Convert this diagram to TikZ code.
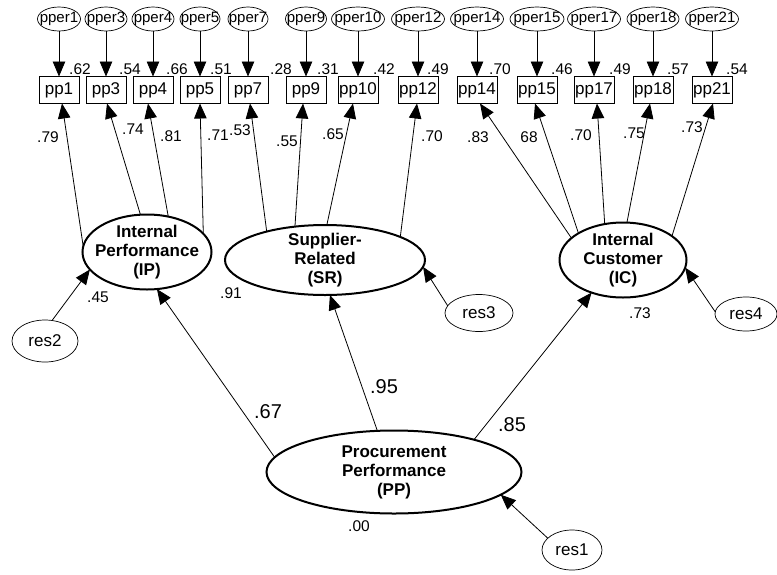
\documentclass[tikz,border=0pt]{standalone}
\usepackage{fontspec}
\setmainfont{Liberation Sans}
\usetikzlibrary{arrows.meta,shapes.geometric}
\begin{document}
\begin{tikzpicture}[x=1pt,y=-1pt,
 every node/.style={inner sep=0pt, outer sep=0pt},
 obs/.style={draw, line width=0.8pt, minimum width=40pt, minimum height=27pt, font=\fontsize{17}{17}\selectfont},
 err/.style={draw, ellipse, inner sep=-15pt, line width=0.7pt, minimum height=24pt, font=\fontsize{15}{15}\selectfont},
 lat/.style={draw, ellipse, inner sep=-15pt, line width=2pt, align=center, font=\bfseries\fontsize{17}{19}\selectfont},
 res/.style={draw, ellipse, inner sep=-15pt, line width=0.7pt, font=\fontsize{17}{17}\selectfont},
 lbl/.style={font=\fontsize{15.5}{15.5}\selectfont},
 big/.style={font=\fontsize{20}{20}\selectfont},
 arr/.style={line width=0.8pt, -{Triangle[length=15pt,width=12.5pt]}},
]
\useasboundingbox (0,0) rectangle (777,574);

% observed indicators and their error terms
\foreach \n/\x/\w/\s/\sx in {1/59/43/.62/80, 3/106/42/.54/130, 4/153/42/.66/177, 5/200/40/.51/221,
  7/248/40/.28/281, 9/306/41/.31/328, 10/358/53/.42/384, 12/418/53/.49/438,
  14/477/53/.70/500, 15/537/54/.46/562, 17/594/53/.49/620, 18/653/52/.57/678, 21/712/53/.54/737}{
  \node[obs] (pp\n) at (\x,90) {pp\n};
  \node[err, minimum width=\w pt] (pper\n) at (\x,19) {pper\n};
  \draw[arr] (pper\n) -- (pp\n);
  \node[lbl] (smc\n) at (\sx,69) {\s};
}

% latent variables
\node[lat, minimum width=129pt, minimum height=75pt] (IP) at (147,252) {Internal\\Performance\\(IP)};
\node[lat, minimum width=200pt, minimum height=70pt] (SR) at (325,260) {Supplier-\\Related\\(SR)};
\node[lat, minimum width=127pt, minimum height=75pt] (IC) at (623,260) {Internal\\Customer\\(IC)};
\node[lat, minimum width=255pt, minimum height=83pt] (PP) at (394,472) {Procurement\\Performance\\(PP)};

% residuals
\node[res, minimum width=60pt, minimum height=40pt] (res1) at (572,550) {res1};
\node[res, minimum width=66pt, minimum height=42pt] (res2) at (45,341) {res2};
\node[res, minimum width=68pt, minimum height=37pt] (res3) at (479,313) {res3};
\node[res, minimum width=62pt, minimum height=34pt] (res4) at (746,314) {res4};

% loadings
\draw[arr] (IP.175.5) -- ([xshift=3pt]pp1.south);
\draw[arr] (IP.100.7) -- ([xshift=1pt]pp3.south);
\draw[arr] (IP.59) -- ([xshift=-5pt]pp4.south);
\draw[arr] (IP.18) -- (pp5.south);
\draw[arr] (SR.154) -- ([xshift=2pt]pp7.south);
\draw[arr] (SR.132) -- ([xshift=-3pt]pp9.south);
\draw[arr] (SR.87) -- ([xshift=-5pt]pp10.south);
\draw[arr] (SR.17.7) -- ([xshift=-1pt]pp12.south);
\draw[arr] (IC.157.5) -- ([xshift=3pt]pp14.south);
\draw[arr] (IC.149.7) -- ([xshift=-2pt]pp15.south);
\draw[arr] (IC.117.8) -- ([xshift=3pt]pp17.south);
\draw[arr] (IC.84) -- ([xshift=-3pt]pp18.south);
\draw[arr] (IC.26.6) -- ([xshift=1pt]pp21.south);

% structural paths
\draw[arr] (PP.173.6) -- (IP.285);
\draw[arr] (PP.112) -- (SR.278);
\draw[arr] (PP.22.3) -- (IC.226.6);

% residual paths
\draw[arr] (res2.71) -- (IP.197);
\draw[arr] (res3.167) -- (SR.356);
\draw[arr] (res4.176) -- (IC.353.5);
\draw[arr] (res1.154) -- (PP.348.8);

% loading labels
\node[lbl] (l1) at (48,137) {.79};
\node[lbl] (l3) at (133,129) {.74};
\node[lbl] (l4) at (171,136) {.81};
\node[lbl] (l5) at (218,135) {.71};
\node[lbl] (l7) at (240,130) {.53};
\node[lbl] (l9) at (287,141) {.55};
\node[lbl] (l10) at (333,134) {.65};
\node[lbl] (l12) at (432,136) {.70};
\node[lbl] (l14) at (478,137) {.83};
\node[lbl] (l15) at (529,137) {68};
\node[lbl] (l17) at (581,135) {.70};
\node[lbl] (l18) at (634,133) {.75};
\node[lbl] (l21) at (692,127) {.73};

% latent R^2 labels
\node[lbl] (rIP) at (98,297) {.45};
\node[lbl] (rSR) at (231,293) {.91};
\node[lbl] (rIC) at (640,313) {.73};
\node[lbl] (rPP) at (359,526) {.00};

% structural labels
\node[big] (gIP) at (268,412) {.67};
\node[big] (gSR) at (384,387) {.95};
\node[big] (gIC) at (512,425) {.85};
\end{tikzpicture}
\end{document}
